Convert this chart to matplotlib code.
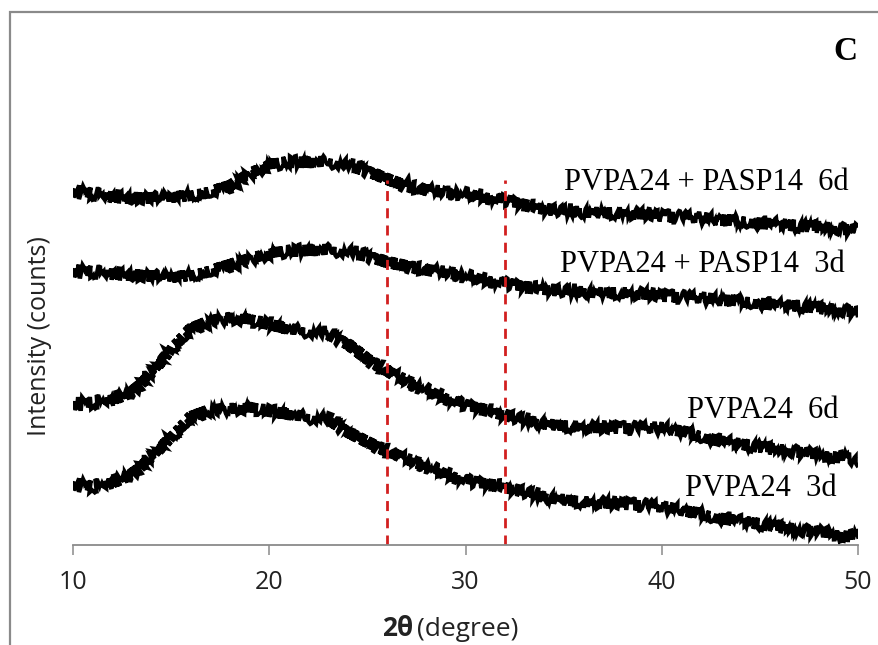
import matplotlib
matplotlib.use("Agg")
import matplotlib.pyplot as plt
from matplotlib.patches import Rectangle

# 2-theta grid (degrees) and intensities (arbitrary counts, stacked)
two_theta = list(range(10, 51))

pvpa_pasp_6d = [710, 702, 696, 694, 694, 696, 700, 706, 718, 742, 760, 766, 766, 766, 760,
                748, 732, 718, 710, 706, 702, 696, 690, 680, 672, 668, 666, 664, 664, 662,
                658, 656, 654, 650, 648, 644, 642, 638, 636, 632, 630]
pvpa_pasp_3d = [550, 546, 542, 540, 538, 536, 540, 548, 560, 572, 582, 588, 590, 590, 586,
                578, 566, 558, 550, 546, 538, 530, 524, 516, 512, 508, 506, 504, 504, 502,
                498, 496, 494, 490, 488, 484, 480, 478, 474, 470, 466]
pvpa_6d = [284, 284, 290, 306, 342, 394, 432, 448, 454, 450, 442, 432, 426, 422, 402,
           372, 348, 328, 310, 294, 280, 270, 260, 250, 242, 238, 236, 234, 234, 234,
           234, 228, 218, 208, 202, 196, 190, 186, 180, 176, 170]
pvpa_3d = [124, 116, 124, 142, 174, 218, 256, 270, 272, 274, 268, 262, 254, 252, 226,
           206, 188, 172, 158, 142, 130, 122, 116, 106, 96, 90, 86, 84, 82, 80,
           76, 70, 62, 54, 48, 42, 36, 30, 26, 20, 16]

series = [pvpa_pasp_6d, pvpa_pasp_3d, pvpa_6d, pvpa_3d]
labels = ["PVPA24 + PASP14  6d", "PVPA24 + PASP14  3d", "PVPA24  6d", "PVPA24  3d"]
label_x = [49.5, 49.35, 49.0, 48.9]
label_y = [724, 560, 270, 112]

marker_lines = [26, 32]   # red dashed guides
xticks = [10, 20, 30, 40, 50]

W, H = 879, 645
fig = plt.figure(figsize=(W / 100, H / 100), dpi=100)
ax = fig.add_axes([73 / W, 1 - 545 / H, (858 - 73) / W, (545 - 20) / H])

for ys in series:
    ln, = ax.plot(two_theta, ys, color="black", lw=3.0, solid_joinstyle="miter")
    # rough trace to mimic the counting noise of the diffractogram
    ln.set_sketch_params(scale=6, length=0.5, randomness=2)

ax.vlines(marker_lines, 0, 730, colors="#d21f1f", linestyles=(0, (3.6, 2.6)), lw=2.0)

for txt, x, y in zip(labels, label_x, label_y):
    ax.text(x, y, txt, ha="right", va="center", fontsize=22,
            family="Liberation Serif", color="black")

ax.set_xlim(10, 50)
ax.set_ylim(0, 1050)
ax.set_xticks(xticks)
ax.set_yticks([])
for s in ("top", "right", "left"):
    ax.spines[s].set_visible(False)
ax.spines["bottom"].set_color("#8a8a8a")
ax.spines["bottom"].set_linewidth(1.3)
ax.tick_params(axis="x", direction="out", length=7, width=1.1, color="#8a8a8a",
               labelsize=18, pad=11)
for t in ax.get_xticklabels():
    t.set_family("Open Sans")
    t.set_color("#222222")

# axis titles
fig.text(413 / W, 1 - 629 / H, "2\u03b8", ha="right", va="center", fontsize=19,
         family="Open Sans", weight="bold", color="#222222")
fig.text(417 / W, 1 - 629 / H, "(degree)", ha="left", va="center", fontsize=19,
         family="Open Sans", color="#222222")
fig.text(40 / W, 1 - 336 / H, "Intensity (counts)", rotation=90, ha="center", va="center",
         fontsize=18, family="Open Sans", color="#222222")

# panel letter
fig.text(845 / W, 1 - 51 / H, "C", ha="center", va="center", fontsize=24,
         family="Liberation Serif", weight="bold")

# outer frame (only left and top edges are visible in the original crop)
fig.patches.append(Rectangle((10 / W, -0.1), 1.2, 1 - 12 / H + 0.1, transform=fig.transFigure,
                             fill=False, edgecolor="#8a8a8a", lw=1.6))

fig.savefig("out.png", dpi=100)
